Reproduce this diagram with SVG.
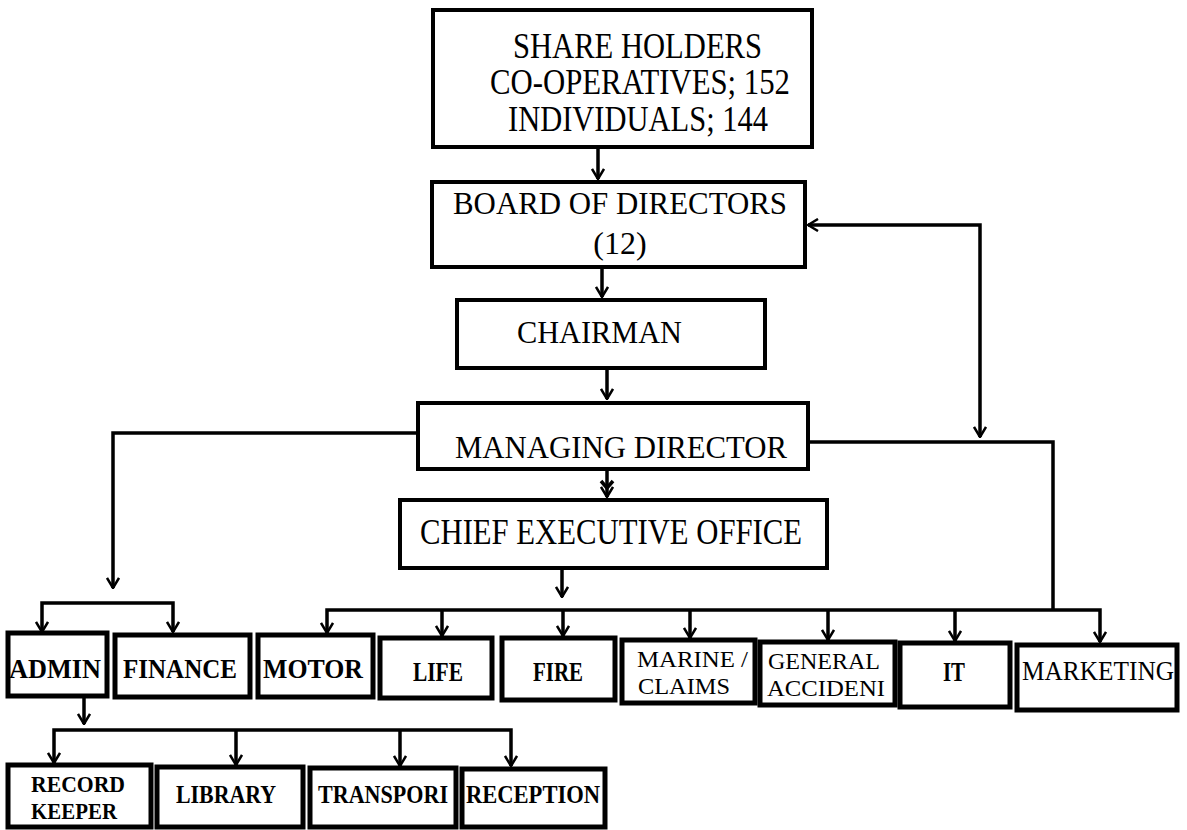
<svg xmlns="http://www.w3.org/2000/svg" width="1187" height="830" viewBox="0 0 1187 830">
<style>
.box{fill:#fff;stroke:#000;stroke-width:4}
.bx{fill:#fff;stroke:#000;stroke-width:5}
.t{font-family:"Liberation Serif","Times New Roman",serif;font-size:32px;fill:#000}
.tl{font-family:"Liberation Serif","Times New Roman",serif;font-size:35px;fill:#000}
.s{font-family:"Liberation Serif","Times New Roman",serif;font-size:27px;fill:#000}
.s2{font-family:"Liberation Serif","Times New Roman",serif;font-size:24px;fill:#000}
.b{font-family:"Liberation Serif","Times New Roman",serif;font-size:28px;font-weight:bold;fill:#000}
.bs{font-family:"Liberation Serif","Times New Roman",serif;font-size:26px;font-weight:bold;fill:#000}
.bs2{font-family:"Liberation Serif","Times New Roman",serif;font-size:24px;font-weight:bold;fill:#000}
.ln{fill:none;stroke:#000;stroke-width:3.5}
</style>
<defs>
<marker id="ah" markerUnits="userSpaceOnUse" viewBox="0 0 12 14" refX="11" refY="7" markerWidth="12" markerHeight="14" orient="auto-start-reverse">
<path d="M1,1 L11,7 L1,13" fill="none" stroke="#000" stroke-width="2.5"/>
</marker>
</defs>
<g id="connectors">
<path class="ln" d="M598,147 V179" marker-end="url(#ah)"/>
<path class="ln" d="M602,267 V297" marker-end="url(#ah)"/>
<path class="ln" d="M607,368 V399" marker-end="url(#ah)"/>
<path class="ln" d="M607,470 V497" marker-end="url(#ah)"/>
<path class="ln" d="M601,481 L607,488 L613,481"/>
<path class="ln" d="M562,568 V597" marker-end="url(#ah)"/>
<path class="ln" d="M808,225 H980 V437" marker-start="url(#ah)" marker-end="url(#ah)"/>
<path class="ln" d="M808,442 H1053 V610"/>
<path class="ln" d="M418,433 H113 V588" marker-end="url(#ah)"/>
<path class="ln" d="M42,632 V603 H173 V632" marker-start="url(#ah)" marker-end="url(#ah)"/>
<path class="ln" d="M327,633 V610 H1100 V642" marker-start="url(#ah)" marker-end="url(#ah)"/>
<path class="ln" d="M442,610 V636" marker-end="url(#ah)"/>
<path class="ln" d="M563,610 V636" marker-end="url(#ah)"/>
<path class="ln" d="M690,610 V638" marker-end="url(#ah)"/>
<path class="ln" d="M828,610 V640" marker-end="url(#ah)"/>
<path class="ln" d="M955,610 V641" marker-end="url(#ah)"/>
<path class="ln" d="M84,697 V724" marker-end="url(#ah)"/>
<path class="ln" d="M54,763 V730 H511 V766" marker-start="url(#ah)" marker-end="url(#ah)"/>
<path class="ln" d="M236,730 V765" marker-end="url(#ah)"/>
<path class="ln" d="M400,730 V766" marker-end="url(#ah)"/>
</g>
<g id="shareholders">
<rect class="box" x="433" y="10" width="379" height="137"/>
<text class="tl" x="513" y="58" textLength="249" lengthAdjust="spacingAndGlyphs">SHARE HOLDERS</text>
<text class="tl" x="490" y="94" textLength="300" lengthAdjust="spacingAndGlyphs">CO-OPERATIVES; 152</text>
<text class="tl" x="508" y="131" textLength="260" lengthAdjust="spacingAndGlyphs">INDIVIDUALS; 144</text>
</g>
<g id="board">
<rect class="box" x="432" y="182" width="373" height="85"/>
<text class="t" x="453" y="214" textLength="334" lengthAdjust="spacingAndGlyphs">BOARD OF DIRECTORS</text>
<text class="t" x="620" y="254" text-anchor="middle">(12)</text>
</g>
<g id="chairman">
<rect class="box" x="457" y="300" width="308" height="68"/>
<text class="t" x="517" y="343" textLength="165" lengthAdjust="spacingAndGlyphs">CHAIRMAN</text>
</g>
<g id="md">
<rect class="box" x="418" y="403" width="390" height="66"/>
<text class="t" x="455" y="458" textLength="332" lengthAdjust="spacingAndGlyphs">MANAGING DIRECTOR</text>
</g>
<g id="ceo">
<rect class="box" x="400" y="500" width="427" height="68"/>
<text class="tl" x="420" y="544" textLength="382" lengthAdjust="spacingAndGlyphs">CHIEF EXECUTIVE OFFICE</text>
</g>
<g id="admin">
<rect class="bx" x="8" y="633" width="99" height="63"/>
<text class="b" x="9" y="678" textLength="92" lengthAdjust="spacingAndGlyphs">ADMIN</text>
</g>
<g id="finance">
<rect class="bx" x="115" y="635" width="135" height="62"/>
<text class="b" x="123" y="678" textLength="114" lengthAdjust="spacingAndGlyphs">FINANCE</text>
</g>
<g id="motor">
<rect class="bx" x="258" y="635" width="115" height="62"/>
<text class="b" x="263" y="678" textLength="100" lengthAdjust="spacingAndGlyphs">MOTOR</text>
</g>
<g id="life">
<rect class="bx" x="380" y="638" width="112" height="60"/>
<text class="b" x="413" y="681" textLength="50" lengthAdjust="spacingAndGlyphs">LIFE</text>
</g>
<g id="fire">
<rect class="bx" x="502" y="638" width="113" height="62"/>
<text class="b" x="533" y="681" textLength="50" lengthAdjust="spacingAndGlyphs">FIRE</text>
</g>
<g id="marine">
<rect class="bx" x="622" y="640" width="133" height="63"/>
<text class="s2" x="637" y="667" textLength="111" lengthAdjust="spacingAndGlyphs">MARINE /</text>
<text class="s2" x="638" y="694" textLength="92" lengthAdjust="spacingAndGlyphs">CLAIMS</text>
</g>
<g id="general">
<rect class="bx" x="760" y="642" width="135" height="63"/>
<text class="s2" x="768" y="669" textLength="112" lengthAdjust="spacingAndGlyphs">GENERAL</text>
<text class="s2" x="767" y="696" textLength="118" lengthAdjust="spacingAndGlyphs">ACCIDENI</text>
</g>
<g id="it">
<rect class="bx" x="900" y="643" width="110" height="64"/>
<text class="b" x="943" y="681" textLength="22" lengthAdjust="spacingAndGlyphs">IT</text>
</g>
<g id="marketing">
<rect class="bx" x="1017" y="645" width="160" height="65"/>
<text class="s" x="1022" y="680" textLength="152" lengthAdjust="spacingAndGlyphs">MARKETING</text>
</g>
<g id="recordkeeper">
<rect class="bx" x="8" y="765" width="143" height="62"/>
<text class="bs2" x="31" y="792" textLength="94" lengthAdjust="spacingAndGlyphs">RECORD</text>
<text class="bs2" x="31" y="819" textLength="86" lengthAdjust="spacingAndGlyphs">KEEPER</text>
</g>
<g id="library">
<rect class="bx" x="157" y="767" width="146" height="60"/>
<text class="bs" x="176" y="803" textLength="100" lengthAdjust="spacingAndGlyphs">LIBRARY</text>
</g>
<g id="transport">
<rect class="bx" x="310" y="768" width="146" height="59"/>
<text class="bs" x="318" y="803" textLength="130" lengthAdjust="spacingAndGlyphs">TRANSPORI</text>
</g>
<g id="reception">
<rect class="bx" x="462" y="769" width="143" height="58"/>
<text class="bs" x="466" y="803" textLength="134" lengthAdjust="spacingAndGlyphs">RECEPTION</text>
</g>
</svg>
